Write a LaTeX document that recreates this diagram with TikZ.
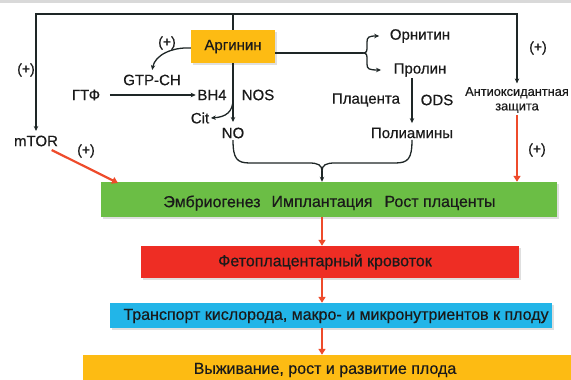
\documentclass[tikz,border=0pt]{standalone}
\usepackage{fontspec}
\setmainfont{Liberation Sans}[FakeBold=0.5]
\usetikzlibrary{arrows.meta,shadows}
\definecolor{grn}{HTML}{6BBE45}
\definecolor{rdb}{HTML}{EE2D24}
\definecolor{blu}{HTML}{22B5E8}
\definecolor{yel}{HTML}{FDBB13}
\definecolor{lnc}{HTML}{1E2626}
\definecolor{rda}{HTML}{EE4B2B}
\definecolor{txc}{HTML}{1A1A1A}
\tikzset{
  lbl/.style={inner sep=1.5pt, text=txc, font=\fontsize{15}{17}\selectfont},
  btx/.style={inner sep=1.5pt, text=txc, font=\fontsize{16}{18}\selectfont},
  sml/.style={inner sep=1.5pt, text=txc, font=\fontsize{12.8}{14.5}\selectfont},
  pls/.style={inner sep=1pt, text=txc, font=\fontsize{14}{16}\selectfont},
  box/.style={draw=none, inner sep=0pt, text=txc, font=\fontsize{15}{17}\selectfont,
     drop shadow={shadow xshift=1.5pt, shadow yshift=-1.5pt, opacity=0.25}},
  arr/.style={draw=lnc, line width=1.3pt, -{Stealth[length=5pt,width=4.5pt]}},
  ln/.style={draw=lnc, line width=1.3pt},
  rarr/.style={draw=rda, line width=2.2pt, -{Triangle[length=6pt,width=7pt]}}
}
\begin{document}
\begin{tikzpicture}[x=1pt,y=-1pt]
\useasboundingbox (0,0) rectangle (571,380);
\fill[gray!30] (0,0) rectangle (571,2.5);

% boxes
\node[box, fill=yel, minimum width=84pt, minimum height=33pt] (arg) at (233,46.5) {Аргинин};
\node[box, fill=grn, minimum width=456pt, minimum height=35pt] (green) at (329,199.5) {};
\node[btx] (emb) at (212,203) {Эмбриогенез};
\node[btx] (impl) at (322,203) {Имплантация};
\node[btx] (rost) at (440,203) {Рост плаценты};
\node[box, fill=rdb, minimum width=378pt, minimum height=32pt] (red) at (330,262) {};
\node[btx] (fet) at (325,262) {Фетоплацентарный кровоток};
\node[box, fill=blu, minimum width=442pt, minimum height=25pt] (blue) at (331,315.5) {};
\node[btx] (tr) at (336,316) {Транспорт кислорода, макро- и микронутриентов к плоду};
\node[box, fill=yel, minimum width=492pt, minimum height=30pt] (orng) at (329,370) {};
\node[btx] (vyzh) at (325,370) {Выживание, рост и развитие плода};

% labels
\node[lbl] (mtor) at (36,141) {mTOR};
\node[pls] (p1) at (26,70) {(+)};
\node[pls] (p2) at (167,43) {(+)};
\node[pls] (p3) at (538,48) {(+)};
\node[pls] (p4) at (537,150) {(+)};
\node[pls] (p5) at (86,151) {(+)};
\node[lbl] (gtpch) at (152,80) {GTP-CH};
\node[lbl] (gtf) at (86,95) {ГТФ};
\node[lbl] (bh4) at (212,95) {BH4};
\node[lbl] (nos) at (258,95) {NOS};
\node[lbl] (cit) at (200,118) {Cit};
\node[lbl] (no) at (233,133) {NO};
\node[lbl] (orn) at (420,36) {Орнитин};
\node[lbl] (prol) at (420,70) {Пролин};
\node[lbl] (plac) at (366,100) {Плацента};
\node[lbl] (ods) at (437,100) {ODS};
\node[lbl] (poly) at (412,133) {Полиамины};
\node[sml, align=center] (anti) at (517,100) {Антиоксидантная\\защита};

% top frame
\coordinate (top) at (233,14);
\draw[ln] (arg.north) -- (top);
\draw[arr] (top) -| ([yshift=3pt]mtor.north);
\draw[arr] (top) -| ([yshift=2pt]anti.north);

% arginine to NO
\draw[arr] (arg.south) -- ([yshift=4pt]no.north);
\coordinate (citbr) at (233,99);
\draw[arr] (citbr) .. controls (233,112) and (226,117) .. (cit.east);

% arginine to GTP-CH
\draw[arr, shorten >=1pt] ([yshift=-1.5pt]arg.west) .. controls (172,47) and (155,55) .. ([yshift=2pt]gtpch.north);

% GTF -> BH4
\path (gtf.east) ++(8,0) coordinate (g0);
\draw[arr] (g0) -- (bh4.west);

% brace to ornithine / proline
\coordinate (bj) at (363,53);
\draw[ln] ([yshift=-6.5pt]arg.east) -- (bj);
\draw[arr] (bj) .. controls (367,53) and (367,51) .. (367,46) -- (367,42) .. controls (367,37) and (369,36) .. ([xshift=-9pt]orn.west);
\draw[arr] (bj) .. controls (367,53) and (367,55) .. (367,60) -- (367,64) .. controls (367,69) and (369,70) .. ([xshift=-11pt]prol.west);

% proline -> polyamines
\draw[arr] (poly.north |- prol.south) -- ([yshift=3pt]poly.north);

% bottom brace
\coordinate (bt) at (322,171);
\draw[ln] (no.south) .. controls (233,159) and (237,163) .. (250,163) -- (309,163) .. controls (318,163) and (322,165) .. (bt);
\draw[ln] (poly.south) .. controls (412,159) and (408,163) .. (395,163) -- (335,163) .. controls (326,163) and (322,165) .. (bt);
\draw[arr] (bt) -- (bt |- green.north);

% red arrows
\draw[rarr] (anti.south) -- (anti.south |- green.north);
\path (mtor.south east) ++(-8,2) coordinate (m0);
\coordinate (m1) at (118,183);
\draw[rarr] (m0) -- (m1);
\draw[rarr] (green.south -| bt) -- (red.north -| bt);
\draw[rarr] (red.south -| bt) -- (blue.north -| bt);
\draw[rarr] (blue.south -| bt) -- (orng.north -| bt);
\end{tikzpicture}
\end{document}
